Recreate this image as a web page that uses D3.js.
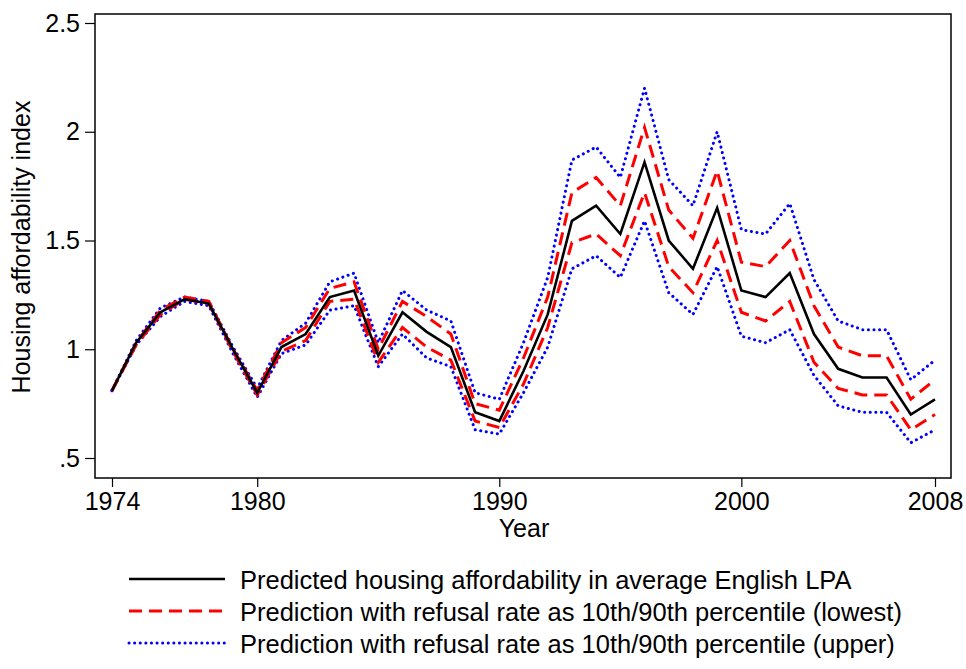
<!DOCTYPE html>
<html>
<head>
<meta charset="utf-8">
<script src="https://cdn.jsdelivr.net/npm/d3@7"></script>
<style>
  body { margin: 0; background: #fff; }
  svg text { font-family: "Liberation Sans", Arial, sans-serif; fill: #000; }
</style>
</head>
<body>
<div id="chart"></div>
<script>
var years = d3.range(1974, 2009);

var predicted = [0.81, 1.03, 1.17, 1.23, 1.21, 1.00, 0.80, 1.01, 1.07, 1.24, 1.27, 0.97, 1.17, 1.08, 1.01,
    0.71, 0.67, 0.90, 1.16, 1.59, 1.66, 1.53, 1.86, 1.50, 1.37, 1.65, 1.27, 1.24, 1.35, 1.07, 0.91, 0.87, 0.87, 0.70, 0.77];
var redUpper = [0.81, 1.03, 1.18, 1.24, 1.22, 1.00, 0.81, 1.03, 1.10, 1.28, 1.31, 1.00, 1.22, 1.15, 1.07,
    0.75, 0.72, 0.96, 1.24, 1.72, 1.79, 1.66, 2.02, 1.64, 1.51, 1.82, 1.40, 1.38, 1.50, 1.20, 1.01, 0.97, 0.97, 0.77, 0.86];
var redLower = [0.81, 1.02, 1.16, 1.23, 1.21, 0.99, 0.79, 0.99, 1.04, 1.22, 1.23, 0.94, 1.10, 1.01, 0.95,
    0.67, 0.64, 0.84, 1.10, 1.49, 1.53, 1.43, 1.72, 1.38, 1.26, 1.50, 1.17, 1.13, 1.22, 0.94, 0.82, 0.79, 0.79, 0.63, 0.70];
var blueUpper = [0.81, 1.04, 1.19, 1.24, 1.22, 1.01, 0.82, 1.04, 1.12, 1.31, 1.35, 1.03, 1.27, 1.18, 1.13,
    0.80, 0.77, 1.03, 1.33, 1.87, 1.93, 1.79, 2.20, 1.78, 1.66, 2.00, 1.55, 1.53, 1.67, 1.32, 1.13, 1.09, 1.09, 0.86, 0.95];
var blueLower = [0.81, 1.02, 1.15, 1.22, 1.20, 0.98, 0.78, 0.98, 1.02, 1.18, 1.20, 0.92, 1.07, 0.96, 0.92,
    0.63, 0.61, 0.80, 1.01, 1.37, 1.43, 1.33, 1.59, 1.26, 1.16, 1.38, 1.06, 1.03, 1.09, 0.88, 0.74, 0.71, 0.71, 0.57, 0.63];

var xTicks = [1974, 1980, 1990, 2000, 2008];
var yTicks = [0.5, 1, 1.5, 2, 2.5];
var legendLabels = ["Predicted housing affordability in average English LPA",
    "Prediction with refusal rate as 10th/90th percentile (lowest)",
    "Prediction with refusal rate as 10th/90th percentile (upper)"];

var width = 966, height = 669;
var frame = { left: 95, right: 951, top: 14, bottom: 478 };
var fontSize = "25px";

var x = d3.scaleLinear().domain([1974, 2008]).range([112, 935]);
var y = d3.scaleLinear().domain([0.5, 2.5]).range([458, 23]);

var svg = d3.select("#chart").append("svg")
    .attr("width", width)
    .attr("height", height);

svg.append("rect")
    .attr("x", frame.left)
    .attr("y", frame.top)
    .attr("width", frame.right - frame.left)
    .attr("height", frame.bottom - frame.top)
    .attr("fill", "none")
    .attr("stroke", "#000")
    .attr("stroke-width", 1.5);

var xAxis = d3.axisBottom(x).tickValues(xTicks).tickFormat(d3.format("d")).tickSize(9).tickPadding(5);
var yAxis = d3.axisLeft(y).tickValues(yTicks)
    .tickFormat(function (d) { return d === 0.5 ? ".5" : d3.format("")(d); })
    .tickSize(10).tickPadding(5);

var gx = svg.append("g")
    .attr("transform", "translate(0," + frame.bottom + ")")
    .call(xAxis);
var gy = svg.append("g")
    .attr("transform", "translate(" + frame.left + ",0)")
    .call(yAxis);
[gx, gy].forEach(function (g) {
    g.attr("font-size", null).attr("font-family", null);
    g.select(".domain").remove();
    g.selectAll("line").attr("stroke", "#000").attr("stroke-width", 1.2);
    g.selectAll("text").style("font-size", fontSize);
});

svg.append("text")
    .attr("x", 524)
    .attr("y", 537)
    .attr("text-anchor", "middle")
    .style("font-size", fontSize)
    .text("Year");

svg.append("text")
    .attr("transform", "translate(30,247) rotate(-90)")
    .attr("text-anchor", "middle")
    .style("font-size", fontSize)
    .text("Housing affordability index");

var line = d3.line()
    .x(function (d, i) { return x(years[i]); })
    .y(function (d) { return y(d); });

var series = [
    { values: blueUpper, color: "#0000ff", width: 3, dash: "0.1 5.5", cap: "round" },
    { values: blueLower, color: "#0000ff", width: 3, dash: "0.1 5.5", cap: "round" },
    { values: redUpper, color: "#ff0000", width: 3, dash: "13 7", cap: "butt" },
    { values: redLower, color: "#ff0000", width: 3, dash: "13 7", cap: "butt" },
    { values: predicted, color: "#000000", width: 2.6, dash: null, cap: "butt" }
];

svg.selectAll(".series")
    .data(series)
    .enter().append("path")
    .attr("class", "series")
    .attr("d", function (d) { return line(d.values); })
    .attr("fill", "none")
    .attr("stroke", function (d) { return d.color; })
    .attr("stroke-width", function (d) { return d.width; })
    .attr("stroke-dasharray", function (d) { return d.dash; })
    .attr("stroke-linecap", function (d) { return d.cap; })
    .attr("stroke-linejoin", "miter");

var legendStyles = [series[4], series[2], series[0]];
var legend = svg.selectAll(".legend")
    .data(legendLabels)
    .enter().append("g")
    .attr("class", "legend")
    .attr("transform", function (d, i) { return "translate(0," + (579 + i * 32) + ")"; });

legend.append("line")
    .attr("x1", 129)
    .attr("x2", 225)
    .attr("stroke", function (d, i) { return legendStyles[i].color; })
    .attr("stroke-width", function (d, i) { return legendStyles[i].width; })
    .attr("stroke-dasharray", function (d, i) { return legendStyles[i].dash; })
    .attr("stroke-linecap", function (d, i) { return legendStyles[i].cap; });

legend.append("text")
    .attr("x", 240)
    .attr("y", 10)
    .style("font-size", "25.5px")
    .text(function (d) { return d; });
</script>
</body>
</html>
